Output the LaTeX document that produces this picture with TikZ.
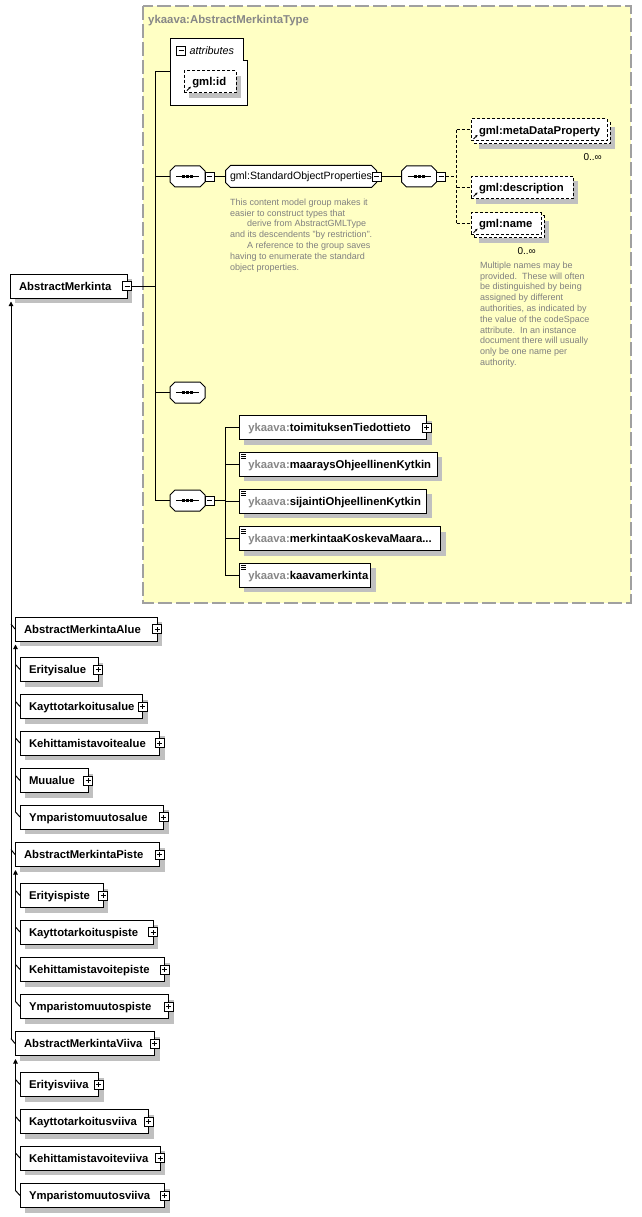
\documentclass[tikz,border=0pt]{standalone}
\usepackage{fontspec}
\setmainfont{Liberation Sans}
\usetikzlibrary{positioning,calc,shadows,arrows.meta}

% colours of the schema view
\definecolor{panelfill}{RGB}{255,255,196}
\definecolor{paneldash}{RGB}{160,160,160}
\definecolor{nsgray}{RGB}{135,135,135}
\definecolor{notegray}{RGB}{128,128,128}
\definecolor{shadowgray}{RGB}{192,192,192}

\newcommand{\ykns}{\textcolor{nsgray}{ykaava:}}

% octagon round a named node, #2 is the size of the cut corners
\newcommand{\octopath}[2]{($(#1.north west)+(#2,0)$) -- ($(#1.north east)+(-#2,0)$)
  -- ($(#1.north east)+(0,#2)$) -- ($(#1.south east)+(0,-#2)$)
  -- ($(#1.south east)+(-#2,0)$) -- ($(#1.south west)+(#2,0)$)
  -- ($(#1.south west)+(0,-#2)$) -- ($(#1.north west)+(0,#2)$) -- cycle}
\newcommand{\octobox}[1]{%
  \fill[shadowgray, shift={(5,5)}] \octopath{#1}{5};
  \draw[link, fill=white] \octopath{#1}{5};}
% sequence compositor symbol
\newcommand{\seqmark}[1]{%
  \octobox{#1}
  \draw[link] ([xshift=6pt]#1.west) -- ([xshift=-6pt]#1.east);
  \foreach \d in {-4,0,4}
    \fill[black] ([xshift=\d pt]#1.center) +(-1.5,-1.5) rectangle +(1.5,1.5);}

\tikzset{
  boxshadow/.style={drop shadow={shadow xshift=5pt,shadow yshift=-5pt,fill=shadowgray,opacity=1}},
  elembase/.style={draw, fill=white, line width=1pt, anchor=north west, outer sep=0pt,
    minimum height=24pt, inner xsep=9pt, inner ysep=0pt, align=left,
    text height=8.3pt, text depth=0pt,
    font={\hyphenpenalty10000 \bfseries\fontsize{11.3}{13}\selectfont}},
  elem/.style={elembase, boxshadow},
  refbase/.style={elembase, dash pattern=on 3pt off 2pt, minimum height=22pt, inner xsep=8pt},
  refelem/.style={refbase, boxshadow},
  pmbox/.style={draw, fill=white, line width=0.8pt, minimum size=9pt, inner sep=0pt, outer sep=0pt},
  minus/.style={pmbox, path picture={
      \draw[line width=0.8pt] ([xshift=2pt]path picture bounding box.west) -- ([xshift=-2pt]path picture bounding box.east);}},
  plus/.style={pmbox, path picture={
      \draw[line width=0.8pt] ([xshift=2pt]path picture bounding box.west) -- ([xshift=-2pt]path picture bounding box.east);
      \draw[line width=0.8pt] ([yshift=2pt]path picture bounding box.south) -- ([yshift=-2pt]path picture bounding box.north);}},
  seqslot/.style={minimum width=35pt, minimum height=21pt, inner sep=0pt, outer sep=0pt},
  groupslot/.style={minimum width=151pt, minimum height=22pt, inner sep=0pt, outer sep=0pt},
  grouptext/.style={inner sep=0pt, font=\fontsize{10.6}{12}\selectfont},
  note/.style={anchor=north west, align=left, inner sep=0pt, text=notegray, font=\fontsize{9}{10.8}\selectfont},
  occurs/.style={anchor=north east, inner sep=0pt, text height=7.2pt, text depth=0pt, font=\fontsize{10}{12}\selectfont},
  link/.style={line width=1pt},
  optlink/.style={line width=1pt, dash pattern=on 3pt off 2pt},
  inherit/.style={line width=1pt, arrows={Triangle[length=4.5pt,width=4.5pt]-}},
  refarrow/.style={line width=0.8pt, -{Stealth[length=2.5pt,width=2.5pt]}},
  panel/.style={fill=panelfill, draw=paneldash, line width=1.5pt, dash pattern=on 14pt off 4pt},
}

\begin{document}
\begin{tikzpicture}[x=1pt, y=-1pt]
\useasboundingbox (0,0) rectangle (641,1217);

% complex type panel
\draw[panel] (143,6) rectangle (631,603);
\node[anchor=west, inner sep=0pt, text height=8.3pt, text depth=0pt, text=nsgray,
  font=\bfseries\fontsize{11.4}{13}\selectfont] (ttl) at (148,19.3) {ykaava:AbstractMerkintaType};

% attributes
\node[anchor=north west, minimum width=77pt, minimum height=67pt, inner sep=0pt, outer sep=0pt] (attr) at (170.5,38.5) {};
\draw[link, fill=white] (attr.north west) -- ($(attr.north east)+(-4.5,0)$) -- ($(attr.north east)+(-4.5,22.5)$)
  -- ($(attr.north east)+(0,22.5)$) -- (attr.south east) -- (attr.south west) -- cycle;
\node[minus] (attr-m) at (181.2,50.5) {};
\node[anchor=west, inner sep=0pt, text height=8pt, text depth=0pt,
  font=\itshape\fontsize{10.8}{12}\selectfont] (attr-t) at (189.5,50.5) {attributes};
\node[refelem, minimum width=52pt, text width=36pt] (gid) at (184.3,70.7) {gml:id};

% first sequence with the standard object properties
\node[seqslot] (seq1) at (187.5,176.5) {};
\seqmark{seq1}
\node[minus, right=0pt of seq1] (seq1-m) {};
\node[groupslot] (sop) at (301,176.5) {};
\octobox{sop}
\node[grouptext] (sop-t) at (sop.center) {gml:StandardObjectProperties};
\node[minus] (sop-m) at (sop.east) {};
\node[note] (sop-n) at (230,198.5) {This content model group makes it\\
easier to construct types that\\
\hspace*{17pt}derive from AbstractGMLType\\
and its descendents "by restriction".\\
\hspace*{17pt}A reference to the group saves\\
having to enumerate the standard\\
object properties.};

\node[seqslot] (seq2) at (419,176.5) {};
\seqmark{seq2}
\node[minus, right=0pt of seq2] (seq2-m) {};
\node[refelem, minimum width=136pt, text width=120pt] (mdp-b) at (474,122) {};
\node[refbase, minimum width=136pt, text width=120pt] (mdp) at (471,119) {gml:metaDataProperty};
\node[occurs] (mdp-o) at ($(mdp-b.south east)+(-8,9)$) {0..∞};
\node[refelem, minimum width=102.3pt, text width=86.3pt] (desc) at (471,176.5) {gml:description};
\node[refelem, minimum width=70pt, text width=54pt] (gname-b) at (474,215.7) {};
\node[refbase, minimum width=70pt, text width=54pt] (gname) at (471,212.7) {gml:name};
\node[occurs] (gname-o) at ($(gname-b.south east)+(-8,9)$) {0..∞};
\node[note] (gname-n) at (480,261.5) {Multiple names may be\\
provided.\ \ These will often\\
be distinguished by being\\
assigned by different\\
authorities, as indicated by\\
the value of the codeSpace\\
attribute.\ \ In an instance\\
document there will usually\\
only be one name per\\
authority.};

% empty sequence
\node[seqslot] (seq3) at (187.5,392.5) {};
\seqmark{seq3}

% sequence of the ykaava elements
\node[seqslot] (seq4) at (187.5,500.5) {};
\seqmark{seq4}
\node[minus, right=0pt of seq4] (seq4-m) {};
\node[elem, minimum width=187.4pt, text width=169.4pt] (toim) at (239.3,415.7) {\ykns toimituksenTiedottieto};
\node[elem, minimum width=198pt, text width=180pt] (maar) at (239.3,452.3) {\ykns maaraysOhjeellinenKytkin};
\node[elem, minimum width=187.4pt, text width=169.4pt] (sij) at (239.3,489.3) {\ykns sijaintiOhjeellinenKytkin};
\node[elem, minimum width=201.4pt, text width=183.4pt] (merk) at (239.3,526.7) {\ykns merkintaaKoskevaMaara...};
\node[elem, minimum width=131.4pt, text width=113.4pt] (kaava) at (239.3,563.3) {\ykns kaavamerkinta};

% derivation tree
\node[elem, minimum width=117pt, text width=99pt] (am) at (10,274) {AbstractMerkinta};
\node[minus] (am-m) at (am.east) {};

\node[elem, minimum width=142pt, text width=124pt] (alue) at (15,617) {AbstractMerkintaAlue};
\node[elem, minimum width=78pt, text width=60pt] (ealue) at (20,657.5) {Erityisalue};
\node[elem, minimum width=122.5pt, text width=104.5pt] (kalue) at (20,694.5) {Kayttotarkoitusalue};
\node[elem, minimum width=139.5pt, text width=121.5pt] (kehalue) at (20,731) {Kehittamistavoitealue};
\node[elem, minimum width=68pt, text width=50pt] (mualue) at (20,768.5) {Muualue};
\node[elem, minimum width=143.5pt, text width=125.5pt] (ymalue) at (20,805) {Ymparistomuutosalue};

\node[elem, minimum width=144.5pt, text width=126.5pt] (piste) at (15,842.5) {AbstractMerkintaPiste};
\node[elem, minimum width=83pt, text width=65pt] (episte) at (20,883.5) {Erityispiste};
\node[elem, minimum width=133pt, text width=115pt] (kpiste) at (20,920) {Kayttotarkoituspiste};
\node[elem, minimum width=144.5pt, text width=126.5pt] (kehpiste) at (20,957.5) {Kehittamistavoitepiste};
\node[elem, minimum width=148.5pt, text width=130.5pt] (ympiste) at (20,994.5) {Ymparistomuutospiste};

\node[elem, minimum width=139.5pt, text width=121.5pt] (viiva) at (15,1031.5) {AbstractMerkintaViiva};
\node[elem, minimum width=78.5pt, text width=60.5pt] (eviiva) at (20,1072.5) {Erityisviiva};
\node[elem, minimum width=128.5pt, text width=110.5pt] (kviiva) at (20,1109.5) {Kayttotarkoitusviiva};
\node[elem, minimum width=140pt, text width=122pt] (kehviiva) at (20,1146) {Kehittamistavoiteviiva};
\node[elem, minimum width=144.5pt, text width=126.5pt] (ymviiva) at (20,1183.5) {Ymparistomuutosviiva};

% expand buttons
\foreach \n in {toim,alue,ealue,kalue,kehalue,mualue,ymalue,piste,episte,kpiste,kehpiste,ympiste,viiva,eviiva,kviiva,kehviiva,ymviiva}
  \node[plus] (\n-p) at (\n.east) {};

% simple content marks and reference marks
\foreach \n in {maar,sij,merk,kaava}
  \foreach \d in {2.5,4.5,6.5}
    \draw[line width=0.8pt] ($(\n.north west)+(2,\d)$) -- +(5,0);
\foreach \n in {gid,mdp,desc,gname}
  \draw[refarrow] ($(\n.south west)+(2.5,-2)$) -- +(4,-4);

% content model connectors
\coordinate (ct) at (155.5,0);
\draw[link] (am-m.east) -- (am-m.east -| ct);
\draw[link] (attr.west) -- (attr.west -| ct) -- (seq4.west -| ct) -- (seq4.west);
\draw[link] (seq1.west -| ct) -- (seq1.west);
\draw[link] (seq3.west -| ct) -- (seq3.west);
\draw[link] (seq1-m.east) -- (sop.west);
\draw[link] (sop-m.east) -- (seq2.west);

\coordinate (cc) at (456.7,0);
\draw[optlink] (seq2-m.east) -- (seq2-m.east -| cc);
\draw[optlink] (mdp.west -| cc) -- (gname.west -| cc);
\foreach \n in {mdp,desc,gname}
  \draw[optlink] (\n.west -| cc) -- (\n.west);

\coordinate (sc) at (225,0);
\draw[link] (seq4-m.east) -- (seq4-m.east -| sc);
\draw[link] (toim.west -| sc) -- (kaava.west -| sc);
\foreach \n in {toim,maar,sij,merk,kaava}
  \draw[link] (\n.west -| sc) -- (\n.west);

% derivation lines
\draw[inherit] ($(am.south west)+(1,3.5)$) -- ($(viiva.north west)+(-4,7)$);
\foreach \n in {alue,piste,viiva}
  \draw[link] ($(\n.north west)+(-4,7)$) -- ($(\n.north west)+(0,12)$);
\draw[inherit] ($(alue.south west)+(0.5,3.5)$) -- ($(ymalue.north west)+(-4.5,7)$);
\draw[inherit] ($(piste.south west)+(0.5,3.5)$) -- ($(ympiste.north west)+(-4.5,7)$);
\draw[inherit] ($(viiva.south west)+(0.5,3.5)$) -- ($(ymviiva.north west)+(-4.5,7)$);
\foreach \n in {ealue,kalue,kehalue,mualue,ymalue,episte,kpiste,kehpiste,ympiste,eviiva,kviiva,kehviiva,ymviiva}
  \draw[link] ($(\n.north west)+(-4.5,7)$) -- ($(\n.north west)+(0,12)$);
\end{tikzpicture}
\end{document}
